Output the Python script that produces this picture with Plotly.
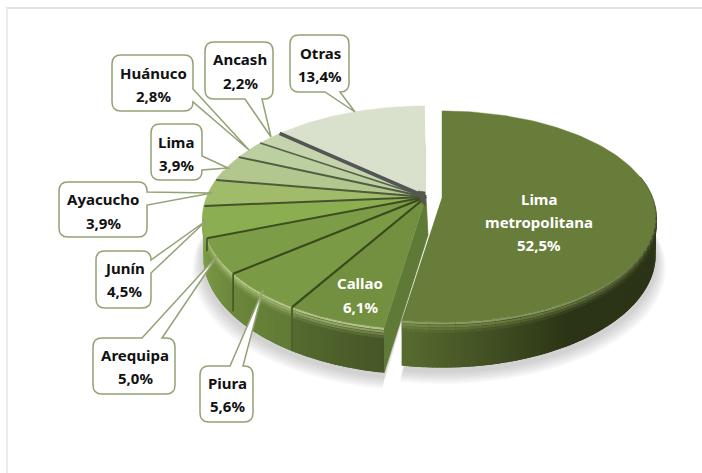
import math
import plotly.graph_objects as go

categories = ["Lima metropolitana", "Callao", "Piura", "Arequipa", "Junín", "Ayacucho", "Lima", "Huánuco", "Ancash", "Otras"]
values = [52.5, 6.1, 5.6, 5.0, 4.5, 3.9, 3.9, 2.8, 2.2, 13.4]
face_colors = ["#677d39", "#72903f", "#7b9a45", "#7d9c47", "#8bae50", "#a0bc6b", "#b1c78d", "#bccfa0", "#c6d4ae", "#d9e1cd"]

K = 0.185
DEPTH = 37


def hex2(c):
    return tuple(int(c[i:i + 2], 16) for i in (1, 3, 5))


def mix(a, b, t):
    a, b = hex2(a), hex2(b)
    return "#%02x%02x%02x" % tuple(round(a[i] + (b[i] - a[i]) * t) for i in range(3))


def proj(deg, g, d=0.0):
    r = math.radians(deg)
    u, v = math.sin(r), math.cos(r)
    w = 1 + K * v
    return g["cx"] + g["A"] * u / w, g["cy"] - g["B"] * v / w + d / w


LIMA = dict(cx=442, cy=197, A=210, B=102)
REST = dict(cx=426, cy=197, A=219, B=108)

fig = go.Figure()


def poly(xs, ys, color, lw=0.7):
    fig.add_trace(go.Scatter(x=xs, y=ys, mode="lines", fill="toself", fillcolor=color,
                             line=dict(color=color, width=lw), hoverinfo="skip", showlegend=False))


def line(xs, ys, color, lw):
    fig.add_trace(go.Scatter(x=xs, y=ys, mode="lines", line=dict(color=color, width=lw),
                             hoverinfo="skip", showlegend=False))


def arange(a, b, step=2.0):
    n = max(1, int(round(abs(b - a) / step)))
    return [a + (b - a) * i / n for i in range(n + 1)]


# slice angles from the values
angles = [0.0]
for val in values:
    angles.append(angles[-1] + val * 3.6)

# soft shadows
for i in range(6, 0, -1):
    shade = "rgba(90,90,90,0.05)"
    grow = i * 1.7
    for g, a0, a1 in ((REST, angles[1], 360), (LIMA, 0, angles[1])):
        pts = [proj(t, g, DEPTH + grow + 3) for t in arange(a0, a1, 4)]
        cx, cy = g["cx"], g["cy"] + DEPTH + grow
        xs = [cx + (p[0] - cx) * (1 + grow / 220) for p in pts] + [cx]
        ys = [p[1] for p in pts] + [cy]
        poly(xs, ys, shade, 0)


def wall_color(deg):
    """Base colour of the outer wall at an angle."""
    if deg < 189:
        if deg < 150:
            return "#2b3416"
        return mix("#2b3416", "#586c30", (deg - 150) / 39)
    if deg < angles[2]:
        return mix("#465626", "#556b30", (deg - 189) / 22)
    if deg < angles[3]:
        return mix("#617a35", "#6c873b", (deg - angles[2]) / 20)
    if deg < angles[4]:
        return mix("#6c873b", "#7a9844", (deg - angles[3]) / 18)
    return mix("#7a9844", "#8bae50", min(1, (deg - angles[4]) / 16))


def draw_wall(g, a0, a1, light, strength, reverse=False):
    steps = arange(a0, a1, 1.0)
    pairs = list(zip(steps, steps[1:]))
    for s0, s1 in pairs:
        mid = (s0 + s1) / 2
        base = wall_color(mid)
        end = min(s1 + 1.2, a1)
        p = [proj(s0, g, 0), proj(end, g, 0), proj(end, g, DEPTH), proj(s0, g, DEPTH)]
        poly([q[0] for q in p], [q[1] for q in p], base, 0)
    # bevel bands painted as continuous pieces along the rim
    steps = arange(a0, a1, 3.0)
    for s0, s1 in zip(steps, steps[1:]):
        mid = (s0 + s1) / 2
        base = wall_color(mid)
        fade = min(1.0, max(0.25, (mid - 80) / 70)) * strength
        top = mix(base, light, fade)
        for d0, col, lw in ((1, mix(top, "#ffffff", 0.1), 2.4), (3.4, mix(top, base, 0.3), 2.4),
                            (5.6, mix(top, base, 0.6), 2.4), (7.8, mix(top, base, 0.85), 2.4)):
            a, b = proj(s0, g, d0), proj(s1, g, d0)
            line([a[0], b[0]], [a[1], b[1]], col, lw)


def draw_face(g, a0, a1, color):
    pts = [proj(t, g) for t in arange(a0, a1, 1.5)]
    poly([g["cx"]] + [p[0] for p in pts], [g["cy"]] + [p[1] for p in pts], color, 0.4)


# inner cut face of the group on the left
corner_top = proj(angles[1], REST)
corner_bot = proj(angles[1], REST, DEPTH)
poly([REST["cx"], REST["cx"] + 2, corner_bot[0], corner_top[0]],
     [REST["cy"], REST["cy"] + 38, corner_bot[1], corner_top[1]], "#5f7a36")

# remaining slices
draw_wall(REST, angles[1], 285, "#b5c884", 0.9)
for i in range(9, 0, -1):
    draw_face(REST, angles[i], angles[i + 1], face_colors[i])

# separators on the left group
sep_colors = ["#4d6a2a", "#3a4a1c", "#3a4a1c", "#3f4d22", "#46522e", "#4f5a3a", "#525c42", "#565f4a", "#555555"]
sep_widths = [2.2, 2.2, 2.2, 2.0, 2.0, 2.0, 1.8, 1.6, 3.6]
for i in range(1, 9):
    px, py = proj(angles[i + 1], REST)
    line([REST["cx"], px], [REST["cy"], py], sep_colors[i], sep_widths[i])
    if i == 1:
        b = proj(angles[2], REST, DEPTH)
        line([px, b[0]], [py, b[1]], "#4d6329", 2.2)
    if i == 2:
        b = proj(angles[3], REST, DEPTH * 0.9)
        line([px, b[0]], [py, b[1]], "#46592a", 1.8)
    if i == 3:
        b = proj(angles[4], REST, 12)
        line([px, b[0]], [py, b[1]], "#46592a", 1.8)

# dark hub
poly([418, 425, 425, 420], [191, 192, 206, 200], "#55584f")

# Lima metropolitana
draw_wall(LIMA, 78, angles[1], "#8ea25a", 0.75)
draw_face(LIMA, angles[0], angles[1], face_colors[0])


# callouts: label box with a pointer
def bubble(x0, y0, x1, y1, tail):
    r = 9
    b0, b1, tip, side = tail
    p = f"M{x0 + r},{y0} "
    if side == "top":
        p += f"L{b0},{y0} L{tip[0]},{tip[1]} L{b1},{y0} "
    p += f"L{x1 - r},{y0} Q{x1},{y0} {x1},{y0 + r} "
    if side == "right":
        p += f"L{x1},{b0} L{tip[0]},{tip[1]} L{x1},{b1} "
    p += f"L{x1},{y1 - r} Q{x1},{y1} {x1 - r},{y1} "
    if side == "bottom":
        p += f"L{b1},{y1} L{tip[0]},{tip[1]} L{b0},{y1} "
    p += f"L{x0 + r},{y1} Q{x0},{y1} {x0},{y1 - r} L{x0},{y0 + r} Q{x0},{y0} {x0 + r},{y0} Z"
    return dict(type="path", path=p, xref="x", yref="y", fillcolor="#ffffff",
                line=dict(color="#93a274", width=1.5), layer="above")


callout_boxes = {
    "Otras": (290, 35, 349, 92, (325, 340, (355, 112), "bottom")),
    "Ancash": (205, 42, 273, 99, (245, 262, (271, 137), "bottom")),
    "Huánuco": (112, 55, 193, 111, (89, 102, (249, 150), "right")),
    "Lima": (151, 124, 202, 180, (156, 170, (228, 168), "right")),
    "Ayacucho": (59, 182, 147, 237, (192, 205, (212, 193), "right")),
    "Junín": (96, 251, 151, 308, (260, 273, (207, 220), "right")),
    "Arequipa": (93, 338, 175, 394, (142, 162, (218, 255), "top")),
    "Piura": (200, 366, 253, 422, (230, 243, (263, 290), "top")),
}
label_pos = {
    "Lima metropolitana": (539, [199, 222, 245]),
    "Callao": (360, [283, 307]),
    "Piura": (227, [383, 406]),
    "Arequipa": (135, [355, 378]),
    "Junín": (124, [268, 291]),
    "Ayacucho": (103, [199, 223]),
    "Lima": (176, [142, 165]),
    "Huánuco": (153, [73, 96]),
    "Ancash": (240, [59, 83]),
    "Otras": (320, [53, 76]),
}

shapes = [dict(type="line", xref="x", yref="y", x0=6, x1=702, y0=8, y1=8, line=dict(color="#e2e2e2", width=2), layer="below"),
          dict(type="line", xref="x", yref="y", x0=7, x1=7, y0=8, y1=473, line=dict(color="#ececec", width=2), layer="below")]
shapes += [bubble(*box) for box in callout_boxes.values()]

annotations = []
for name, val in zip(categories, values):
    cx, ys = label_pos[name]
    pct = f"{val:.1f}%".replace(".", ",")
    lines = name.split(" ") + [pct] if name == "Lima metropolitana" else [name, pct]
    white = name in ("Lima metropolitana", "Callao")
    for txt, y in zip(lines, ys):
        annotations.append(dict(x=cx, y=y, xref="x", yref="y", text=f"<b>{txt}</b>", showarrow=False,
                                xanchor="center", yanchor="middle",
                                font=dict(family="Noto Sans", size=15, color="#ffffff" if white else "#111111")))

fig.update_layout(width=702, height=473, margin=dict(l=0, r=0, t=0, b=0), paper_bgcolor="#ffffff",
                  plot_bgcolor="#ffffff", showlegend=False, shapes=shapes, annotations=annotations,
                  xaxis=dict(range=[0, 702], visible=False, fixedrange=True),
                  yaxis=dict(range=[473, 0], visible=False, fixedrange=True))
fig.write_html("out.html", config=dict(displayModeBar=False),
               post_script="document.body.style.margin='0';document.documentElement.style.overflow='hidden';")
